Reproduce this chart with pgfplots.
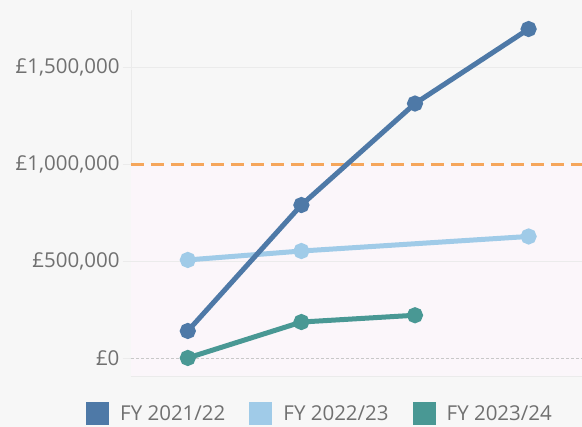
\documentclass[border=0pt]{standalone}
\usepackage{pgfplots}
\pgfplotsset{compat=1.18}
\usepackage{fontspec}
\setmainfont{Open Sans}
\definecolor{bg}{HTML}{F7F7F7}
\definecolor{band}{HTML}{FBF6FA}
\definecolor{gridc}{HTML}{EBEBEB}
\definecolor{txt}{HTML}{707070}
\definecolor{cA}{HTML}{4E79A7}
\definecolor{cB}{HTML}{A0CBE8}
\definecolor{cC}{HTML}{499894}
\definecolor{ref}{HTML}{F5A65B}
\definecolor{zero}{HTML}{C8C8C8}
\begin{document}
\begin{tikzpicture}
\fill[bg] (-131pt,-51pt) rectangle (451pt,376pt);
\path[use as bounding box] (-131pt,-51pt) rectangle (451pt,376pt);
\begin{axis}[
  scale only axis,
  width=451pt, height=366pt,
  xmin=-0.5, xmax=3.47,
  ymin=-90000, ymax=1796000,
  axis line style={draw=gridc},
  axis x line*=bottom, axis y line*=left,
  xtick=\empty,
  ytick={0,500000,1000000,1500000},
  yticklabels={{\pounds0},{\pounds500,000},{\pounds1,000,000},{\pounds1,500,000}},
  yticklabel style={font=\fontsize{20.5}{20.5}\selectfont, text=txt},
  ytick align=outside, major tick length=8pt,
  tick style={draw=gridc, line width=1pt},
  ymajorgrids, grid style={draw=gridc, line width=1pt},
  scaled y ticks=false,
  clip=false,
  legend columns=3,
  legend style={at={(-45pt,-37.5pt)}, anchor=west, draw=none, fill=none,
    inner sep=0pt, font=\fontsize{20.5}{20.5}\selectfont, text=txt,
    /tikz/every odd column/.append style={column sep=9pt},
    /tikz/every even column/.append style={column sep=22pt}},
  legend image code/.code={\fill[#1,draw=none] (0pt,-11.5pt) rectangle (23pt,11.5pt);},
  legend cell align=left,
]
\addplot[draw=none, fill=band, forget plot] coordinates {(-0.5,-90000) (3.47,-90000) (3.47,1000000) (-0.5,1000000)} --cycle;
\addplot[draw=gridc, line width=1pt, forget plot] coordinates {(-0.5,500000) (3.47,500000)};
\addplot[draw=gridc, line width=1pt, forget plot] coordinates {(-0.5,1500000) (3.47,1500000)};
\addplot[draw=zero, line width=1.2pt, dash pattern=on 3pt off 2pt, forget plot] coordinates {(-0.5,0) (3.47,0)};
\addplot[draw=ref, line width=3.3pt, dash pattern=on 13pt off 7pt, forget plot] coordinates {(-0.5,1000000) (3.47,1000000)};
\addplot[color=cB, line width=5pt, mark=*, mark size=5.5pt, mark options={draw=none}, forget plot] coordinates {(0,508000) (1,554000) (3,629000)};
\addplot[color=cA, line width=5pt, mark=*, mark size=5.5pt, mark options={draw=none}, forget plot] coordinates {(0,142000) (1,791000) (2,1314000) (3,1698000)};
\addplot[color=cC, line width=5pt, mark=*, mark size=5.5pt, mark options={draw=none}, forget plot] coordinates {(0,3000) (1,188000) (2,223000)};
\addlegendimage{color=cA}\addlegendentry{FY 2021/22}
\addlegendimage{color=cB}\addlegendentry{FY 2022/23}
\addlegendimage{color=cC}\addlegendentry{FY 2023/24}
\end{axis}
\end{tikzpicture}
\end{document}
